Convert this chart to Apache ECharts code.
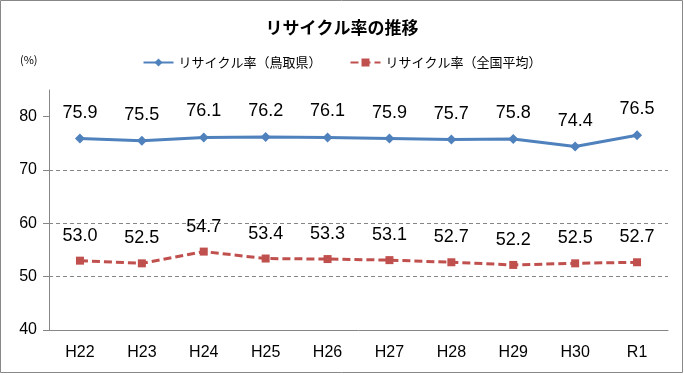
<!DOCTYPE html>
<html><head><meta charset="utf-8">
<script src="https://cdn.jsdelivr.net/npm/echarts@6/dist/echarts.min.js"></script>
<style>html,body{margin:0;padding:0;background:#fff}#c{width:684px;height:375px}</style>
</head><body><div id="c"></div>
<script>
const categories = ['H22','H23','H24','H25','H26','H27','H28','H29','H30','R1'];
const tottori = [75.9,75.5,76.1,76.2,76.1,75.9,75.7,75.8,74.4,76.5];
const national = [53.0,52.5,54.7,53.4,53.3,53.1,52.7,52.2,52.5,52.7];
const yTicks = [40,50,60,70,80];
const seriesNames = ['リサイクル率（鳥取県）','リサイクル率（全国平均）'];

const chart = echarts.init(document.getElementById('c'), null, {renderer:'canvas'});
const font = '"Liberation Sans", Arial, "Noto Sans CJK JP", sans-serif';
const lbl = {show:true, position:'top', distance:12, color:'#000', fontSize:18, fontFamily:font,
  formatter: p => p.value.toFixed(1)};
chart.setOption({
  animation:false,
  backgroundColor:'#fff',
  title:{text:'リサイクル率の推移', left:'center', top:14,
    textStyle:{fontSize:17, fontWeight:'bold', color:'#000', fontFamily:'"Noto Sans CJK JP", sans-serif'}},
  legend:{top:51, left:'center', itemWidth:30, itemHeight:10, itemGap:28,
    textStyle:{fontSize:13, color:'#000', fontFamily:'"Noto Sans CJK JP", sans-serif'},
    data:seriesNames},
  graphic:[
    {type:'rect', shape:{x:0.5,y:0.5,width:682,height:372}, style:{fill:'none', stroke:'#888', lineWidth:1}, silent:true},
    {type:'text', left:20, top:54, style:{text:'(%)', fontSize:11, fill:'#000', fontFamily:'"Noto Sans CJK JP", sans-serif'}}
  ],
  grid:{left:49, right:16, top:90, bottom:45, containLabel:false},
  xAxis:{type:'category', data:categories, boundaryGap:true,
    axisLine:{lineStyle:{color:'#868686', width:1}},
    axisTick:{show:false},
    axisLabel:{color:'#000', fontSize:16, margin:15, fontFamily:font}},
  yAxis:{type:'value', min:40, max:85, interval:10,
    axisLine:{show:true, lineStyle:{color:'#868686', width:1}},
    axisTick:{show:true, length:6, customValues:yTicks, lineStyle:{color:'#868686'}},
    axisLabel:{color:'#000', fontSize:16, margin:12, fontFamily:font, customValues:yTicks},
    splitLine:{show:true, showMinLine:false, showMaxLine:false, lineStyle:{color:'#868686', type:[4,3], width:1}}},
  series:[
    {name:seriesNames[0], type:'line', data:tottori, symbol:'diamond', symbolSize:10,
      lineStyle:{color:'#4F81BD', width:3}, itemStyle:{color:'#4F81BD'}, label:lbl},
    {name:seriesNames[1], type:'line', data:national, symbol:'rect', symbolSize:8,
      lineStyle:{color:'#C0504D', width:3, type:[8,4]}, itemStyle:{color:'#C0504D'}, label:lbl}
  ]
});
</script></body></html>
